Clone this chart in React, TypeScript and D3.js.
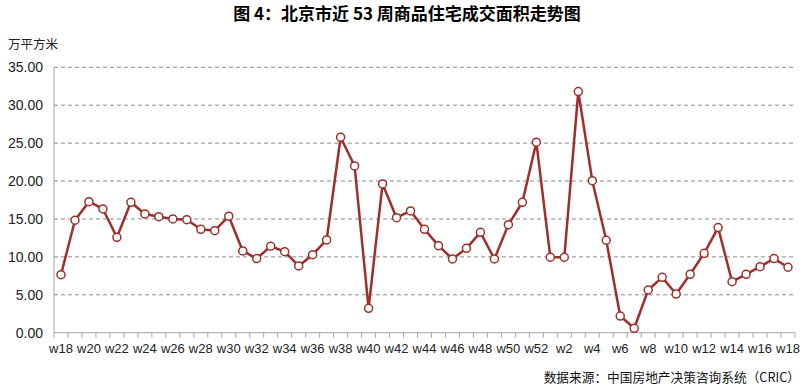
import React from "react";
import * as d3 from "d3";

const weeks: string[] = [
  ...d3.range(18, 53).map((w) => "w" + w),
  ...d3.range(1, 19).map((w) => "w" + w),
];
const values: number[] = [
  7.65, 14.83, 17.28, 16.32, 12.58, 17.2, 15.66, 15.3, 15.0, 14.9,
  13.64, 13.46, 15.36, 10.78, 9.77, 11.4, 10.69, 8.8, 10.29, 12.23,
  25.78, 21.99, 3.22, 19.62, 15.17, 16.06, 13.64, 11.48, 9.72, 11.13,
  13.24, 9.72, 14.25, 17.2, 25.12, 9.95, 9.95, 31.8, 20.05, 12.19,
  2.2, 0.58, 5.63, 7.3, 5.1, 7.7, 10.47, 13.86, 6.73, 7.7,
  8.71, 9.77, 8.63,
];
const yTicks: number[] = [0, 5, 10, 15, 20, 25, 30, 35];

const W = 807;
const H = 389;
const left = 54;
const right = 795;
const top = 67.3;
const bottom = 332.7;
const red = "#9E2F2C";
const cjk = "'Noto Sans CJK SC', 'Liberation Sans', sans-serif";
const latin = "'Liberation Sans', Arial, sans-serif";

export default function App() {
  const idx = weeks.map((_, i) => i);
  const x = d3.scaleBand<number>().domain(idx).range([left, right]);
  const y = d3.scaleLinear().domain([0, 35]).range([bottom, top]);
  const cx = (i: number) => (x(i) as number) + x.bandwidth() / 2;
  const line = d3
    .line<number>()
    .x((_, i) => cx(i))
    .y((d) => y(d));

  return (
    <svg width={W} height={H} style={{ position: "absolute", left: 0, top: 0 }}>
      <rect width={W} height={H} fill="#fff" />
      <text x={407} y={20} textAnchor="middle" fontFamily={cjk} fontWeight="bold" fontSize={17} fill="#000">
        图 4：北京市近 53 周商品住宅成交面积走势图
      </text>
      <text x={8} y={49} fontFamily={cjk} fontSize={12.5} fill="#222">
        万平方米
      </text>
      {yTicks.map((t) => (
        <g key={t}>
          {t > 0 && (
            <line x1={left} x2={right} y1={y(t)} y2={y(t)} stroke="#8c8c8c" strokeWidth={1} strokeDasharray="4,3" />
          )}
          <text x={43} y={y(t) + 5} textAnchor="end" fontFamily={latin} fontSize={14} fill="#222">
            {t.toFixed(2)}
          </text>
        </g>
      ))}
      <line x1={left} x2={left} y1={top} y2={bottom} stroke="#a6a6a6" strokeWidth={1} />
      <line x1={left} x2={right} y1={bottom} y2={bottom} stroke="#a6a6a6" strokeWidth={1} />
      {d3.range(weeks.length + 1).map((i) => {
        const xx = left + i * x.bandwidth();
        return <line key={i} x1={xx} x2={xx} y1={bottom} y2={bottom + 5} stroke="#a6a6a6" strokeWidth={1} />;
      })}
      {weeks.map((w, i) =>
        i % 2 === 0 ? (
          <text key={i} x={cx(i)} y={bottom + 20} textAnchor="middle" fontFamily={latin} fontSize={13} fill="#222">
            {w}
          </text>
        ) : null
      )}
      <path d={line(values) || ""} fill="none" stroke={red} strokeWidth={2.5} strokeLinejoin="round" />
      {values.map((v, i) => (
        <circle key={i} cx={cx(i)} cy={y(v)} r={4} fill="#fff" stroke={red} strokeWidth={1.5} />
      ))}
      <text x={800} y={382} textAnchor="end" fontFamily={cjk} fontSize={12.7} fill="#111">
        数据来源：中国房地产决策咨询系统（CRIC）
      </text>
    </svg>
  );
}
